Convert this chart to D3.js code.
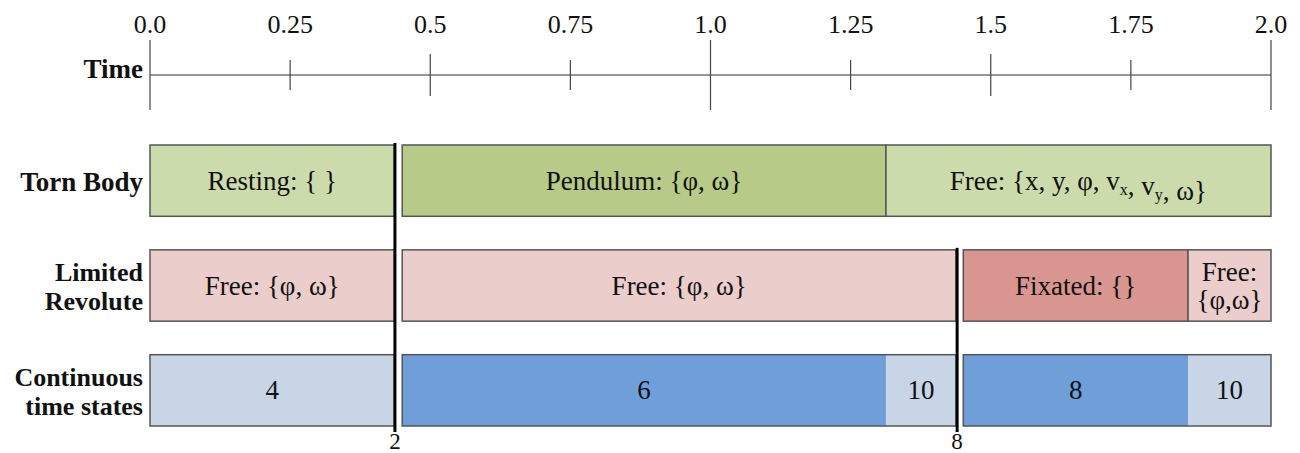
<!DOCTYPE html>
<html>
<head>
<meta charset="utf-8">
<script src="https://cdn.jsdelivr.net/npm/d3@7"></script>
<style>
  body { margin: 0; background: #fff; }
  text { font-family: "Liberation Serif", "Times New Roman", serif; fill: #111; }
</style>
</head>
<body>
<div id="chart"></div>
<script>
// time axis
const tickValues = [0, 0.25, 0.5, 0.75, 1.0, 1.25, 1.5, 1.75, 2.0];
const tickLabels = ["0.0", "0.25", "0.5", "0.75", "1.0", "1.25", "1.5", "1.75", "2.0"];

// rows
const rows = ["Torn Body", "Limited\nRevolute", "Continuous\ntime states"];

// mode segments per row (time units)
const tornBody = [
  {start: 0, end: 0.436, label: "Resting: { }", kind: "light"},
  {start: 0.45, end: 1.313, label: "Pendulum: {φ, ω}", kind: "dark"},
  {start: 1.313, end: 2.0, label: "Free: {x, y, φ, v_x, v_y, ω}", kind: "light"}
];
const limitedRevolute = [
  {start: 0, end: 0.436, label: "Free: {φ, ω}", kind: "light"},
  {start: 0.45, end: 1.438, label: "Free: {φ, ω}", kind: "light"},
  {start: 1.451, end: 1.852, label: "Fixated: {}", kind: "dark"},
  {start: 1.852, end: 2.0, label: "Free:\n{φ,ω}", kind: "light"}
];
const stateGroups = [[0, 0.436], [0.45, 1.438], [1.451, 2.0]];
const stateCounts = [
  {start: 0, end: 0.436, label: "4", kind: "light"},
  {start: 0.45, end: 1.313, label: "6", kind: "dark"},
  {start: 1.313, end: 1.438, label: "10", kind: "light"},
  {start: 1.451, end: 1.852, label: "8", kind: "dark"},
  {start: 1.852, end: 2.0, label: "10", kind: "light"}
];

// events (mode switches); fromRow = first row the line crosses
const events = [{t: 0.437, label: "2", fromRow: 0}, {t: 1.44, label: "8", fromRow: 1}];

const colors = {
  "Torn Body": {light: "#ccdbab", dark: "#b7ca87"},
  "Limited\nRevolute": {light: "#ebcdcc", dark: "#d9958f"},
  "Continuous\ntime states": {light: "#c8d5e6", dark: "#709ed9"}
};

const width = 1300, height = 453;

const svg = d3.select("#chart")
    .append("svg")
    .attr("width", width)
    .attr("height", height);

const x = d3.scaleLinear().domain([0, 2]).range([150, 1271]);

const y = d3.scaleBand()
    .domain(rows)
    .range([145, 426])
    .paddingInner(0.32);

// axis
const axisY = 75;
const axis = svg.append("g");
axis.append("line")
    .attr("x1", x(0)).attr("x2", x(2))
    .attr("y1", axisY).attr("y2", axisY)
    .attr("stroke", "#333").attr("stroke-width", 1.2);

function tickHalf(v) {
  if (v % 1 === 0) return 35;
  if (v % 0.5 === 0) return 21;
  return 15;
}

axis.selectAll("line.tick")
    .data(tickValues)
    .enter()
    .append("line")
    .attr("class", "tick")
    .attr("x1", d => x(d)).attr("x2", d => x(d))
    .attr("y1", d => axisY - tickHalf(d))
    .attr("y2", d => axisY + tickHalf(d))
    .attr("stroke", "#444").attr("stroke-width", 1.2);

axis.selectAll("text.tl")
    .data(tickValues)
    .enter()
    .append("text")
    .attr("class", "tl")
    .attr("x", d => x(d))
    .attr("y", 33)
    .attr("text-anchor", "middle")
    .attr("font-size", 26)
    .text((d, i) => tickLabels[i]);

// row labels
svg.append("text")
    .attr("x", 143).attr("y", 78)
    .attr("text-anchor", "end")
    .attr("font-size", 27).attr("font-weight", "bold")
    .text("Time");

rows.forEach(r => {
  const lines = r.split("\n");
  const cy = y(r) + y.bandwidth() / 2;
  const t = svg.append("text")
      .attr("text-anchor", "end")
      .attr("font-size", lines.length > 1 ? 26 : 27)
      .attr("font-weight", "bold");
  lines.forEach((l, i) => {
    t.append("tspan")
        .attr("x", 143)
        .attr("y", cy + 10 + (i - (lines.length - 1) / 2) * 29)
        .text(l);
  });
});

function addLabel(g, d, cy) {
  const lines = d.label.split("\n");
  const t = g.append("text")
      .attr("text-anchor", "middle")
      .attr("font-size", 27);
  const cx = (x(d.start) + x(d.end)) / 2;
  lines.forEach((l, i) => {
    const line = t.append("tspan")
        .attr("x", cx)
        .attr("y", cy + 9 + (i - (lines.length - 1) / 2) * 28);
    l.split(/(_\w)/).forEach(part => {
      if (!part) return;
      if (part[0] === "_") {
        line.append("tspan").attr("font-size", 16).attr("dy", 5).text(part.slice(1));
        line.append("tspan").attr("dy", -5).text("");
      } else {
        line.append("tspan").text(part);
      }
    });
  });
}

function drawRow(row, data, stroked) {
  const g = svg.append("g");
  const cy = y(row) + y.bandwidth() / 2;
  g.selectAll("rect")
      .data(data)
      .enter()
      .append("rect")
      .attr("x", d => x(d.start))
      .attr("width", d => x(d.end) - x(d.start))
      .attr("y", y(row))
      .attr("height", y.bandwidth())
      .attr("fill", d => colors[row][d.kind])
      .attr("stroke", stroked ? "#555" : "none")
      .attr("stroke-width", 1.5);
  data.forEach(d => addLabel(g, d, cy));
  return g;
}

drawRow(rows[0], tornBody, true);
drawRow(rows[1], limitedRevolute, true);
const cg = drawRow(rows[2], stateCounts, false);
cg.selectAll("rect.outline")
    .data(stateGroups)
    .enter()
    .append("rect")
    .attr("class", "outline")
    .attr("x", d => x(d[0]))
    .attr("width", d => x(d[1]) - x(d[0]))
    .attr("y", y(rows[2]))
    .attr("height", y.bandwidth())
    .attr("fill", "none")
    .attr("stroke", "#555")
    .attr("stroke-width", 1.5);

// event lines
svg.selectAll("line.event")
    .data(events)
    .enter()
    .append("line")
    .attr("class", "event")
    .attr("x1", d => x(d.t)).attr("x2", d => x(d.t))
    .attr("y1", d => y(rows[d.fromRow]) - 2).attr("y2", 432)
    .attr("stroke", "#000").attr("stroke-width", 3);

svg.selectAll("text.event")
    .data(events)
    .enter()
    .append("text")
    .attr("class", "event")
    .attr("x", d => x(d.t))
    .attr("y", 449)
    .attr("text-anchor", "middle")
    .attr("font-size", 23)
    .text(d => d.label);
</script>
</body>
</html>
